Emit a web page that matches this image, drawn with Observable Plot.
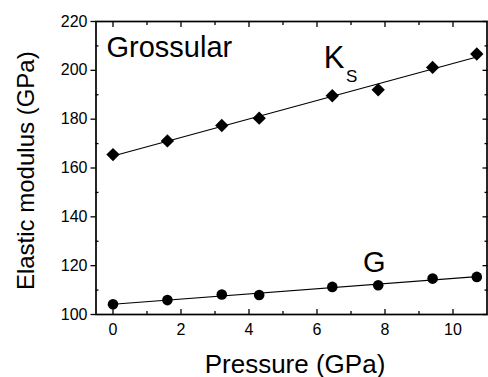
<!DOCTYPE html>
<html><head><meta charset="utf-8">
<script src="https://cdn.jsdelivr.net/npm/d3@7"></script>
<script src="https://cdn.jsdelivr.net/npm/@observablehq/plot@0.6"></script>
<style>html,body{margin:0;padding:0;background:#fff}</style>
</head><body><div id="chart"></div>
<script>
const pressure = [0, 1.6, 3.2, 4.3, 6.45, 7.8, 9.4, 10.7];
const bulkKs = [165.5, 171.1, 177.4, 180.4, 189.6, 192.0, 201.2, 206.7];
const shearG = [104.2, 105.9, 108.2, 108.0, 111.3, 112.0, 114.7, 115.4];
const xMajorTicks = [0, 2, 4, 6, 8, 10];
const xMinorTicks = [1, 3, 5, 7, 9];
const yMajorTicks = [100, 120, 140, 160, 180, 200, 220];
const yMinorTicks = [110, 130, 150, 170, 190, 210];

const ksData = pressure.map((p, i) => ({p, v: bulkKs[i]}));
const gData = pressure.map((p, i) => ({p, v: shearG[i]}));
const font = "'Liberation Sans', Arial, Helvetica, sans-serif";
const tk = {fill: "none", label: null, strokeWidth: 1.3};

const chart = Plot.plot({
  width: 488, height: 377,
  marginLeft: 95.5, marginRight: 1.5, marginTop: 21, marginBottom: 63,
  x: {domain: [-0.5, 11]},
  y: {domain: [100, 220]},
  style: {fontFamily: font, fontSize: "16px", color: "#000", background: "#fff"},
  marks: [
    Plot.frame({stroke: "black", strokeWidth: 1.7}),
    // bottom axis
    Plot.axisX(xMajorTicks, {anchor: "bottom", tickSize: 0, tickPadding: 9, fontSize: 16, label: null}),
    Plot.axisX(xMajorTicks, {anchor: "bottom", tickSize: -5, ...tk}),
    Plot.axisX(xMinorTicks, {anchor: "bottom", tickSize: -3, ...tk}),
    // top axis
    Plot.axisX(xMajorTicks, {anchor: "top", tickSize: -5, ...tk}),
    Plot.axisX(xMinorTicks, {anchor: "top", tickSize: -3, ...tk}),
    // left axis
    Plot.axisY(yMajorTicks, {anchor: "left", tickSize: 5, tickPadding: 3.5, fontSize: 16, label: null, strokeWidth: 1.3}),
    Plot.axisY(yMinorTicks, {anchor: "left", tickSize: -3, ...tk}),
    // right axis
    Plot.axisY(yMajorTicks, {anchor: "right", tickSize: -5, ...tk}),
    Plot.axisY(yMinorTicks, {anchor: "right", tickSize: -3, ...tk}),
    // fit lines
    Plot.linearRegressionY(ksData, {x: "p", y: "v", ci: 0, stroke: "black", strokeWidth: 1.2}),
    Plot.linearRegressionY(gData, {x: "p", y: "v", ci: 0, stroke: "black", strokeWidth: 1.2}),
    // points
    Plot.dot(ksData, {x: "p", y: "v", symbol: "diamond2", r: 6, fill: "black", stroke: "none"}),
    Plot.dot(gData, {x: "p", y: "v", symbol: "circle", r: 5.3, fill: "black", stroke: "none"}),
    // annotations
    Plot.text(["Grossular"], {text: d => d, frameAnchor: "top-left", textAnchor: "start", lineAnchor: "bottom", dx: 10.5, dy: 35, fontSize: 29, fill: "black"}),
    Plot.text(["K"], {text: d => d, frameAnchor: "top-left", textAnchor: "start", lineAnchor: "bottom", dx: 227.8, dy: 46.3, fontSize: 31, fill: "black"}),
    Plot.text(["S"], {text: d => d, frameAnchor: "top-left", textAnchor: "start", lineAnchor: "bottom", dx: 250, dy: 60.7, fontSize: 17, fill: "black"}),
    Plot.text(["G"], {text: d => d, frameAnchor: "top-left", textAnchor: "middle", lineAnchor: "bottom", dx: 278.2, dy: 250.7, fontSize: 29, fill: "black"}),
    // axis titles
    Plot.text(["Pressure (GPa)"], {text: d => d, frameAnchor: "bottom", textAnchor: "middle", lineAnchor: "bottom", dx: 3.5, dy: 58, fontSize: 26, fill: "black"}),
    Plot.text(["Elastic modulus (GPa)"], {text: d => d, frameAnchor: "left", textAnchor: "middle", lineAnchor: "bottom", rotate: -90, dx: -62.2, dy: 2.7, fontSize: 24, fill: "black"})
  ]
});
document.getElementById("chart").appendChild(chart);
</script>
</body></html>
